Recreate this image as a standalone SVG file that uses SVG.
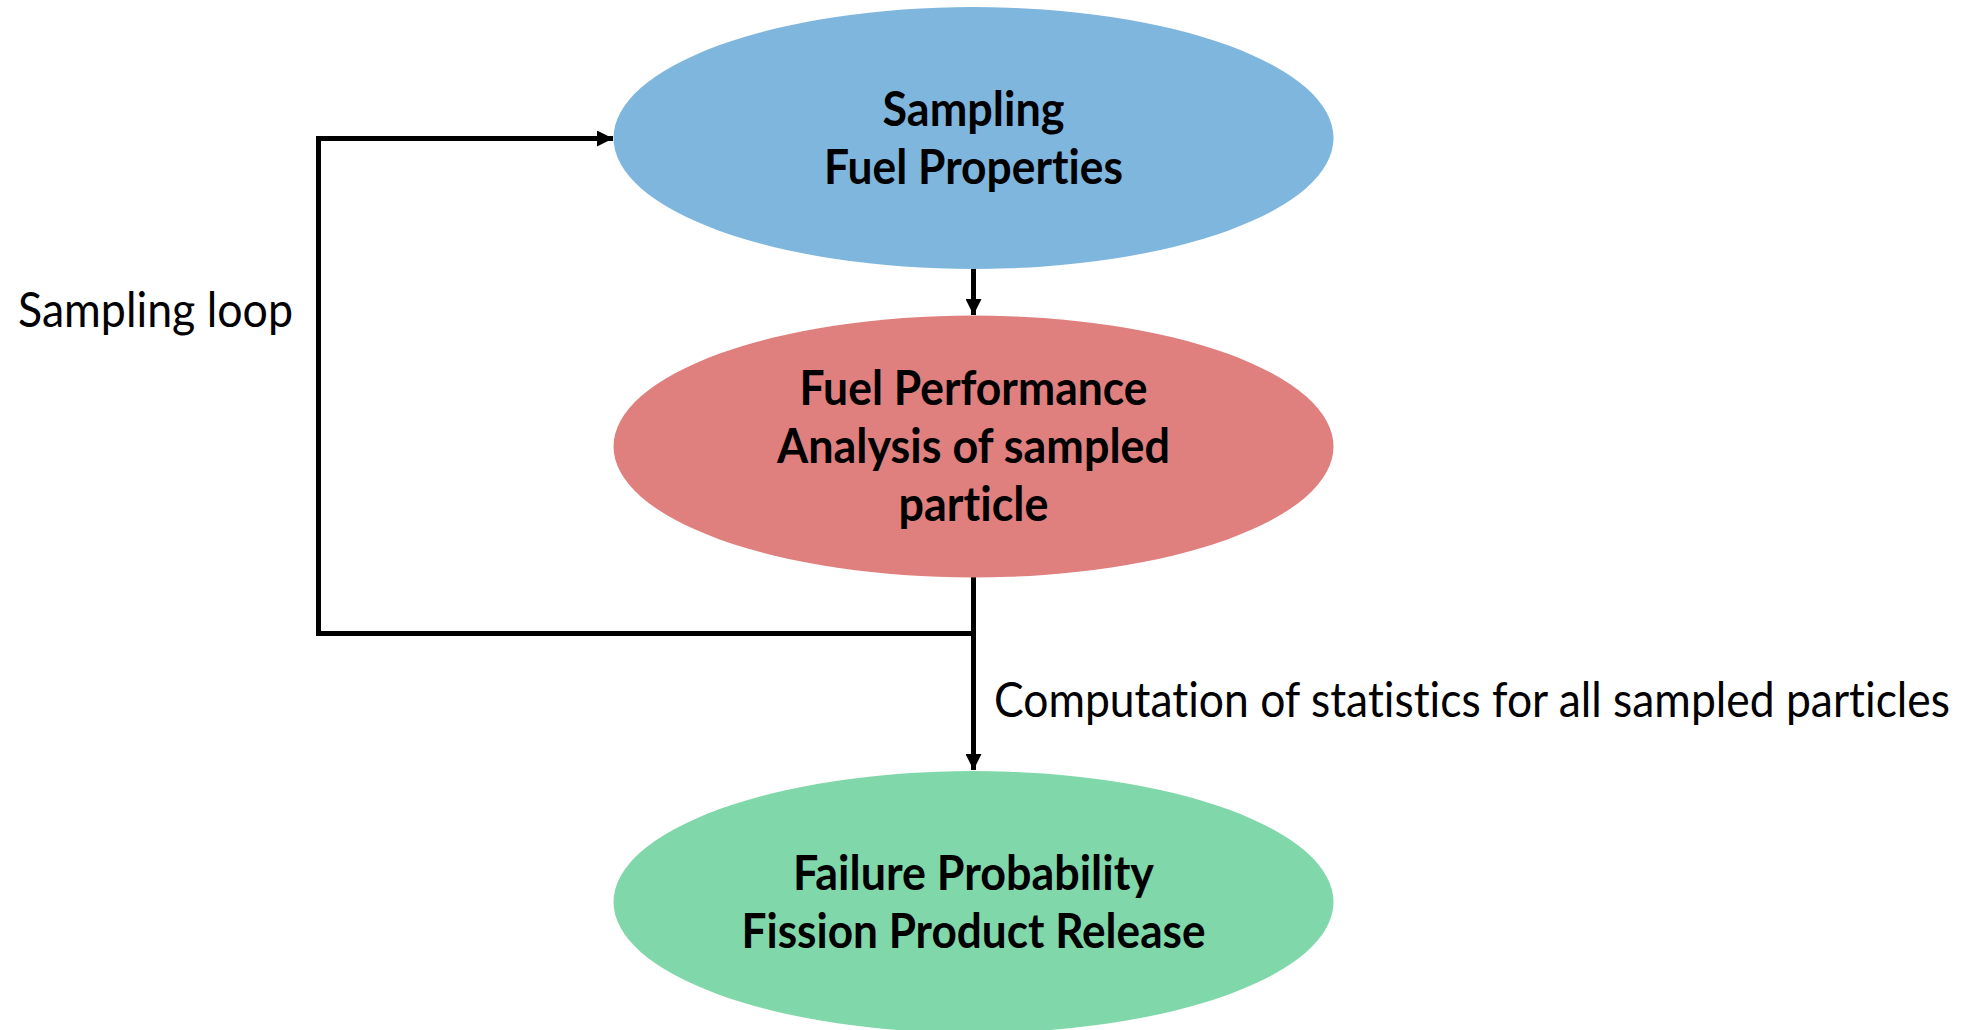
<svg xmlns="http://www.w3.org/2000/svg" width="1972" height="1030" viewBox="0 0 1972 1030">
  <style>
    .node-label { font-family: Lato, "Open Sans", "Liberation Sans", sans-serif; font-weight: bold; font-size: 48px; fill: #000; text-anchor: middle; font-variant-ligatures: none; }
    .edge-label { font-family: Lato, "Open Sans", "Liberation Sans", sans-serif; font-size: 48px; fill: #000; font-variant-ligatures: none; }
    .wire { fill: none; stroke: #000; stroke-width: 5; }
  </style>
  <defs>
    <marker id="arrow" markerUnits="userSpaceOnUse" markerWidth="16" markerHeight="16" refX="16" refY="8" orient="auto">
      <path d="M0,0 L16,8 L0,16 Z" fill="#000"/>
    </marker>
  </defs>
  <rect width="1972" height="1030" fill="#fff"/>

  <!-- connectors -->
  <g id="connectors">
    <line class="wire" x1="973.5" y1="269" x2="973.5" y2="315" marker-end="url(#arrow)"/>
    <polyline class="wire" points="973.5,633.5 318.5,633.5 318.5,138.5 613,138.5" marker-end="url(#arrow)"/>
    <line class="wire" x1="973.5" y1="577" x2="973.5" y2="770" marker-end="url(#arrow)"/>
    <text class="edge-label" x="18" y="327" textLength="275" lengthAdjust="spacingAndGlyphs">Sampling loop</text>
    <text class="edge-label" x="994" y="717" textLength="956" lengthAdjust="spacingAndGlyphs">Computation of statistics for all sampled particles</text>
  </g>

  <!-- sampling node -->
  <g id="node-sampling">
    <ellipse cx="973.5" cy="138" rx="360" ry="131" fill="#7fb6de"/>
    <text class="node-label" x="973.5" y="126" textLength="182" lengthAdjust="spacingAndGlyphs">Sampling</text>
    <text class="node-label" x="973.5" y="184" textLength="299" lengthAdjust="spacingAndGlyphs">Fuel Properties</text>
  </g>

  <!-- fuel performance node -->
  <g id="node-performance">
    <ellipse cx="973.5" cy="446.5" rx="360" ry="131" fill="#df7f7e"/>
    <text class="node-label" x="973.5" y="405" textLength="348" lengthAdjust="spacingAndGlyphs">Fuel Performance</text>
    <text class="node-label" x="973.5" y="463" textLength="393" lengthAdjust="spacingAndGlyphs">Analysis of sampled</text>
    <text class="node-label" x="973.5" y="521" textLength="150" lengthAdjust="spacingAndGlyphs">particle</text>
  </g>

  <!-- results node -->
  <g id="node-results">
    <ellipse cx="973.5" cy="902" rx="360" ry="131" fill="#80d8aa"/>
    <text class="node-label" x="973.5" y="890" textLength="361" lengthAdjust="spacingAndGlyphs">Failure Probability</text>
    <text class="node-label" x="973.5" y="948" textLength="464" lengthAdjust="spacingAndGlyphs">Fission Product Release</text>
  </g>
</svg>
